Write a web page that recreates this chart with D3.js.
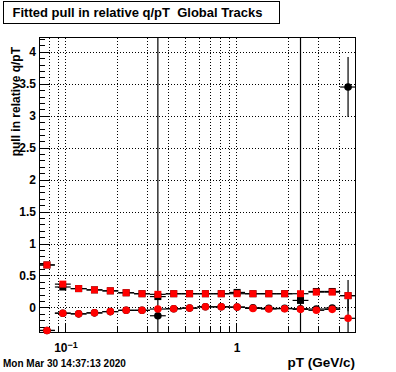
<!DOCTYPE html>
<html lang="en">
<head>
    <meta charset="UTF-8">
    <title>Fitted pull in relative q/pT</title>
    <style>
        body {
            margin: 0;
            background: #fff;
        }

        svg text {
            font-family: "Liberation Sans", Arial, Helvetica, sans-serif;
            font-weight: bold;
            fill: #000;
        }

        .grid line {
            stroke: #000;
            stroke-dasharray: 1, 2;
        }

        .grid path {
            display: none;
        }
    </style>
</head>
<body>

<div id="chart"></div>

<script src="https://d3js.org/d3.v7.min.js"></script>
<script>
    // pT bin edges (log bins, GeV/c)
    const binEdges = [0.0700, 0.0867, 0.1073, 0.1328, 0.1644, 0.2035, 0.2519, 0.3118, 0.3860, 0.4779,
        0.5916, 0.7323, 0.9065, 1.1221, 1.3891, 1.7196, 2.1287, 2.6351, 3.2620, 4.0380, 5.0000];

    // black squares / circles (drawn first, mostly hidden by the red ones)
    const blackSquare = [0.665, 0.32, 0.295, 0.275, 0.26, 0.23, 0.215, 0.17, 0.215, 0.215,
        0.215, 0.215, 0.235, 0.215, 0.215, 0.215, 0.11, 0.25, 0.25, 0.185];
    const blackSquareErr = [0.015, 0.015, 0.015, 0.015, 0.015, 0.015, 0.015, 10, 0.015, 0.015,
        0.015, 0.015, 0.015, 0.015, 0.015, 0.015, 10, 0.015, 0.015, 0.015];
    const blackCircle = [-0.36, -0.09, -0.10, -0.085, -0.065, -0.045, -0.045, -0.13, -0.02, -0.01,
        0.01, 0.01, 0.005, -0.005, -0.015, -0.015, -0.02, -0.025, -0.01, 3.45];
    const blackCircleErr = [0.015, 0.015, 0.015, 0.015, 0.015, 0.015, 0.015, 0.02, 0.015, 0.015,
        0.015, 0.015, 0.015, 0.015, 0.015, 0.015, 0.015, 0.015, 0.015, 0.47];

    // red squares / circles
    const redSquare = [0.665, 0.365, 0.295, 0.275, 0.26, 0.23, 0.215, 0.205, 0.215, 0.215,
        0.215, 0.215, 0.215, 0.215, 0.215, 0.215, 0.215, 0.24, 0.24, 0.185];
    const redSquareErr = [0.015, 0.015, 0.015, 0.015, 0.015, 0.015, 0.015, 0.015, 0.015, 0.015,
        0.015, 0.015, 0.015, 0.015, 0.015, 0.015, 0.015, 0.015, 0.015, 0.245];
    const redCircle = [-0.36, -0.09, -0.10, -0.085, -0.065, -0.045, -0.045, -0.025, -0.02, -0.01,
        0.01, 0.01, 0.005, -0.015, -0.025, -0.02, -0.03, -0.045, -0.03, -0.17];
    const redCircleErr = [0.015, 0.015, 0.015, 0.015, 0.015, 0.015, 0.015, 0.015, 0.015, 0.015,
        0.015, 0.015, 0.015, 0.015, 0.015, 0.015, 0.015, 0.015, 0.015, 0.3];

    // axis ticks
    const xMajorTicks = [0.1, 1];
    const xMinorTicks = [0.08, 0.09, 0.2, 0.3, 0.4, 0.5, 0.6, 0.7, 0.8, 0.9, 2, 3, 4];
    const yMajorTicks = [0, 0.5, 1, 1.5, 2, 2.5, 3, 3.5, 4];
    const yMinorTicks = [-0.3, -0.2, -0.1, 0.1, 0.2, 0.3, 0.4, 0.6, 0.7, 0.8, 0.9, 1.1, 1.2, 1.3, 1.4,
        1.6, 1.7, 1.8, 1.9, 2.1, 2.2, 2.3, 2.4, 2.6, 2.7, 2.8, 2.9, 3.1, 3.2, 3.3, 3.4, 3.6, 3.7, 3.8, 3.9, 4.1, 4.2];

    const titleText = "Fitted pull in relative q/pT  Global Tracks";
    const xTitle = "pT (GeV/c)";
    const yTitle = "pull in relative q/pT";
    const dateText = "Mon Mar 30 14:37:13 2020";

    const width = 396, height = 372;
    const plotLeft = 39, plotRight = 356, plotTop = 37, plotBottom = 333;

    const svg = d3.select("#chart").append("svg")
        .attr("width", width)
        .attr("height", height);

    const x = d3.scaleLog().domain([0.07, 5]).range([plotLeft, plotRight]);
    const y = d3.scaleLinear().domain([-0.4, 4.233]).range([plotBottom, plotTop]);

    // grid
    svg.append("g").attr("class", "grid")
        .attr("transform", "translate(0," + plotBottom + ")")
        .call(d3.axisBottom(x).tickValues(xMajorTicks.concat(xMinorTicks)).tickSize(-(plotBottom - plotTop)).tickFormat(""));
    svg.append("g").attr("class", "grid")
        .attr("transform", "translate(" + plotLeft + ",0)")
        .call(d3.axisLeft(y).tickValues(yMajorTicks).tickSize(-(plotRight - plotLeft)).tickFormat(""));

    // frame
    svg.append("rect")
        .attr("x", plotLeft + 0.5).attr("y", plotTop + 0.5)
        .attr("width", plotRight - plotLeft - 1).attr("height", plotBottom - plotTop - 1)
        .attr("fill", "none").attr("stroke", "#000");

    // axes (ticks inward, ROOT style)
    const yAxis = svg.append("g").attr("transform", "translate(" + (plotLeft + 0.5) + ",0)")
        .call(d3.axisLeft(y).tickValues(yMajorTicks).tickSize(-10).tickPadding(3.5)
            .tickFormat(d => d3.format("")(d)));
    yAxis.selectAll("text").attr("font-size", 12);
    svg.append("g").attr("transform", "translate(" + (plotLeft + 0.5) + ",0)")
        .call(d3.axisLeft(y).tickValues(yMinorTicks).tickSize(-5).tickFormat(""));

    const xAxis = svg.append("g").attr("transform", "translate(0," + (plotBottom - 0.5) + ")")
        .call(d3.axisBottom(x).tickValues(xMajorTicks).tickSize(-10).tickPadding(11).tickFormat(""));
    svg.append("g").attr("transform", "translate(0," + (plotBottom - 0.5) + ")")
        .call(d3.axisBottom(x).tickValues(xMinorTicks).tickSize(-6).tickFormat(""));
    svg.selectAll(".domain").remove();
    svg.selectAll(".tick line").attr("shape-rendering", "crispEdges");

    // x labels: 10^-1 and 1
    xAxis.selectAll(".tick text").each(function (d) {
        const t = d3.select(this).attr("font-size", 12).attr("dy", null).attr("y", 19.5);
        if (d < 1) {
            t.append("tspan").text("10");
            t.append("tspan").attr("font-size", 9).attr("dy", -4.5).text("\u22121");
        } else {
            t.text("1");
        }
    });

    // data: error bars clipped to the frame, markers not
    svg.append("clipPath").attr("id", "plot-clip")
        .append("rect").attr("x", plotLeft).attr("y", plotTop)
        .attr("width", plotRight - plotLeft).attr("height", plotBottom - plotTop);

    const series = [
        {vals: blackSquare, errs: blackSquareErr, color: "#000", shape: "square"},
        {vals: blackCircle, errs: blackCircleErr, color: "#000", shape: "circle"},
        {vals: redSquare, errs: redSquareErr, color: "#ff0000", shape: "square"},
        {vals: redCircle, errs: redCircleErr, color: "#ff0000", shape: "circle"}
    ];

    series.forEach(s => {
        const pts = s.vals.map((v, i) => ({
            lo: binEdges[i],
            hi: binEdges[i + 1],
            c: Math.sqrt(binEdges[i] * binEdges[i + 1]),
            v: v,
            e: s.errs[i]
        }));
        const bars = svg.append("g").attr("clip-path", "url(#plot-clip)");

        bars.selectAll(".xerr").data(pts).enter().append("line")
            .attr("x1", d => x(d.lo)).attr("x2", d => x(d.hi))
            .attr("y1", d => y(d.v)).attr("y2", d => y(d.v))
            .attr("stroke", "#000").attr("stroke-width", 1.2);

        bars.selectAll(".yerr").data(pts).enter().append("line")
            .attr("x1", d => x(d.c)).attr("x2", d => x(d.c))
            .attr("y1", d => y(d.v - d.e)).attr("y2", d => y(d.v + d.e))
            .attr("stroke", "#000").attr("stroke-width", 1.2);

        const g = svg.append("g");
        if (s.shape === "square") {
            g.selectAll(".mk").data(pts).enter().append("rect")
                .attr("x", d => x(d.c) - 3.5).attr("y", d => y(d.v) - 3.5)
                .attr("width", 7).attr("height", 7)
                .attr("fill", s.color);
        } else {
            g.selectAll(".mk").data(pts).enter().append("circle")
                .attr("cx", d => x(d.c)).attr("cy", d => y(d.v))
                .attr("r", 3.8)
                .attr("fill", s.color);
        }
    });

    // title box
    svg.append("rect")
        .attr("x", 3.5).attr("y", 1.5).attr("width", 276).attr("height", 22)
        .attr("fill", "#fff").attr("stroke", "#000");
    svg.append("text")
        .attr("x", 12.5).attr("y", 17)
        .attr("font-size", 13)
        .style("white-space", "pre")
        .text(titleText);

    // axis titles
    svg.append("text")
        .attr("transform", "translate(20,47) rotate(-90)")
        .attr("text-anchor", "end")
        .attr("font-size", 12)
        .text(yTitle);
    svg.append("text")
        .attr("x", 355).attr("y", 366.5)
        .attr("text-anchor", "end")
        .attr("font-size", 13.5)
        .text(xTitle);

    // date stamp
    svg.append("text")
        .attr("x", 3).attr("y", 367)
        .attr("font-size", 10)
        .text(dateText);
</script>

</body>
</html>
